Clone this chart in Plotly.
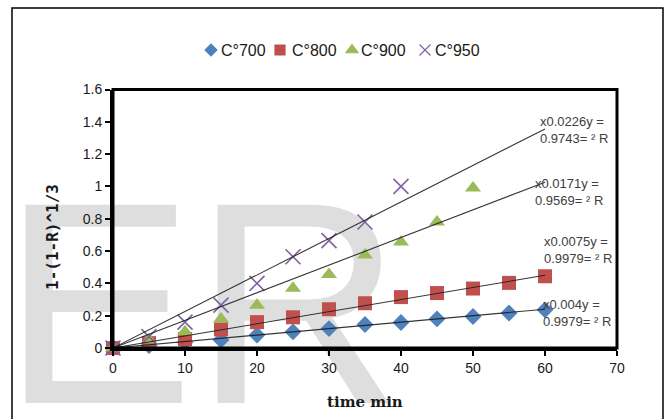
import plotly.graph_objects as go

# ---------------- data ----------------
series_names = ["C°700", "C°800", "C°900", "C°950"]
time_700 = [0, 5, 10, 15, 20, 25, 30, 35, 40, 45, 50, 55, 60]
vals_700 = [0, 0.015, 0.035, 0.05, 0.08, 0.10, 0.12, 0.145, 0.158, 0.18, 0.195, 0.217, 0.236]
time_800 = [0, 5, 10, 15, 20, 25, 30, 35, 40, 45, 50, 55, 60]
vals_800 = [0, 0.03, 0.055, 0.115, 0.16, 0.19, 0.24, 0.277, 0.315, 0.34, 0.368, 0.403, 0.444]
time_900 = [0, 5, 10, 15, 20, 25, 30, 35, 40, 45, 50]
vals_900 = [0, 0.05, 0.10, 0.18, 0.265, 0.37, 0.455, 0.575, 0.656, 0.78, 0.99]
time_950 = [0, 5, 10, 15, 20, 25, 30, 35, 40]
vals_950 = [0, 0.07, 0.16, 0.265, 0.40, 0.565, 0.665, 0.78, 1.0]

trend_slopes = [0.004, 0.0075, 0.0171, 0.0226]
trend_x = [0, 60]
eq_lines = ["x0.004y =", "x0.0075y =", "x0.0171y =", "x0.0226y ="]
r2_lines = ["0.9979= ² R", "0.9979= ² R", "0.9569= ² R", "0.9743= ² R"]

x_ticks = [0, 10, 20, 30, 40, 50, 60, 70]
y_ticks = [0, 0.2, 0.4, 0.6, 0.8, 1, 1.2, 1.4, 1.6]

# ---------------- style ----------------
W, H = 667, 419
colors = ["#4F81BD", "#C0504D", "#9BBB59", "#8064A2"]
symbols = ["diamond", "square", "triangle-up", "x-thin-open"]
msizes = [13, 14, 14, 15]
leg_sizes = [9, 10, 11, 11]
SANS = "Liberation Sans, Arial, sans-serif"

times = [time_700, time_800, time_900, time_950]
vals = [vals_700, vals_800, vals_900, vals_950]

fig = go.Figure()

# watermark on a full-page pixel subplot (drawn first -> behind data)
fig.add_trace(go.Scatter(
    x=[202], y=[331], mode="text", text=["ER"], textposition="middle center",
    textfont=dict(family=SANS, size=288, color="#dedede"),
    xaxis="x", yaxis="y", showlegend=False, hoverinfo="skip", cliponaxis=False))

# manual legend markers (pixel subplot)
leg_mx = [211, 280, 352, 425]
leg_tx = [219, 290, 359, 433]
for i in range(4):
    fig.add_trace(go.Scatter(
        x=[leg_mx[i]], y=[50], mode="markers",
        marker=dict(symbol=symbols[i], size=leg_sizes[i], color=colors[i],
                    line=dict(width=1.2, color=colors[i])),
        xaxis="x", yaxis="y", showlegend=False, hoverinfo="skip", cliponaxis=False))
    fig.add_annotation(x=leg_tx[i], y=50, xref="x", yref="y", text=series_names[i],
                       showarrow=False, xanchor="left", yanchor="middle",
                       font=dict(family=SANS, size=16, color="#1a1a1a"))

# data markers
for i in range(4):
    fig.add_trace(go.Scatter(
        x=times[i], y=vals[i], mode="markers", name=series_names[i],
        marker=dict(symbol=symbols[i], size=msizes[i], color=colors[i],
                    line=dict(width=1.6 if i == 3 else 0, color=colors[i])),
        xaxis="x2", yaxis="y2", showlegend=False, cliponaxis=False))

# trend lines
for i in range(4):
    fig.add_trace(go.Scatter(
        x=trend_x, y=[trend_slopes[i] * t for t in trend_x], mode="lines",
        line=dict(color="rgba(30,30,30,0.9)", width=1.1),
        xaxis="x2", yaxis="y2", showlegend=False, hoverinfo="skip"))

# equation labels (pixel coords)
lab_x = [541, 542, 533, 538]
lab_y = [312.5, 249.5, 191.5, 129.5]
for i in range(4):
    fig.add_annotation(x=lab_x[i], y=lab_y[i], xref="x", yref="y",
                       text=eq_lines[i] + "<br>" + r2_lines[i], showarrow=False,
                       xanchor="left", yanchor="middle", align="left",
                       font=dict(family=SANS, size=13, color="#404040"))

# outer border
fig.add_shape(type="rect", x0=12, x1=663, y0=8, y1=440, xref="x", yref="y",
              line=dict(color="black", width=1.5), fillcolor="rgba(0,0,0,0)")
# plot-area frame
fig.add_shape(type="rect", x0=0, x1=1, y0=0, y1=1, xref="x2 domain", yref="y2 domain",
              line=dict(color="black", width=3), fillcolor="rgba(0,0,0,0)", layer="above")

# axis titles
fig.add_annotation(x=52, y=237, xref="x", yref="y", text="<b>1-(1-R)^1/3</b>",
                   showarrow=False, textangle=-90,
                   font=dict(family="DejaVu Sans Mono, monospace", size=16, color="#1a1a1a"))
fig.add_annotation(x=365, y=402, xref="x", yref="y", text="<b>time min</b>",
                   showarrow=False,
                   font=dict(family="DejaVu Serif, serif", size=15, color="#1a1a1a"))

x_dom = [113 / W, 617 / W]
y_dom = [(H - 348) / H, (H - 89.5) / H]

fig.update_layout(
    template="none",
    width=W, height=H, margin=dict(l=0, r=0, t=0, b=0, pad=0, autoexpand=False),
    paper_bgcolor="white", plot_bgcolor="rgba(0,0,0,0)",
    xaxis=dict(domain=[0, 1], range=[0, W], visible=False, fixedrange=True, automargin=False),
    yaxis=dict(domain=[0, 1], range=[H, 0], visible=False, fixedrange=True, automargin=False),
    xaxis2=dict(domain=x_dom, anchor="y2", range=[0, 70], tickvals=x_ticks,
                ticktext=[str(v) for v in x_ticks], automargin=False,
                showline=True, linewidth=3, linecolor="black",
                ticks="outside", ticklen=5, tickwidth=2, tickcolor="black",
                showgrid=False, zeroline=False,
                tickfont=dict(family=SANS, size=14, color="#1a1a1a")),
    yaxis2=dict(domain=y_dom, anchor="x2", range=[0, 1.6], tickvals=y_ticks,
                ticktext=[("%g" % v) for v in y_ticks], automargin=False,
                showline=True, linewidth=3, linecolor="black",
                ticks="outside", ticklen=5, tickwidth=2, tickcolor="black",
                showgrid=False, zeroline=False,
                tickfont=dict(family=SANS, size=14, color="#1a1a1a")),
    showlegend=False,
)

fig.write_html("out.html", config={"displayModeBar": False},
               post_script="document.body.style.margin='0';document.body.style.overflow='hidden';")
